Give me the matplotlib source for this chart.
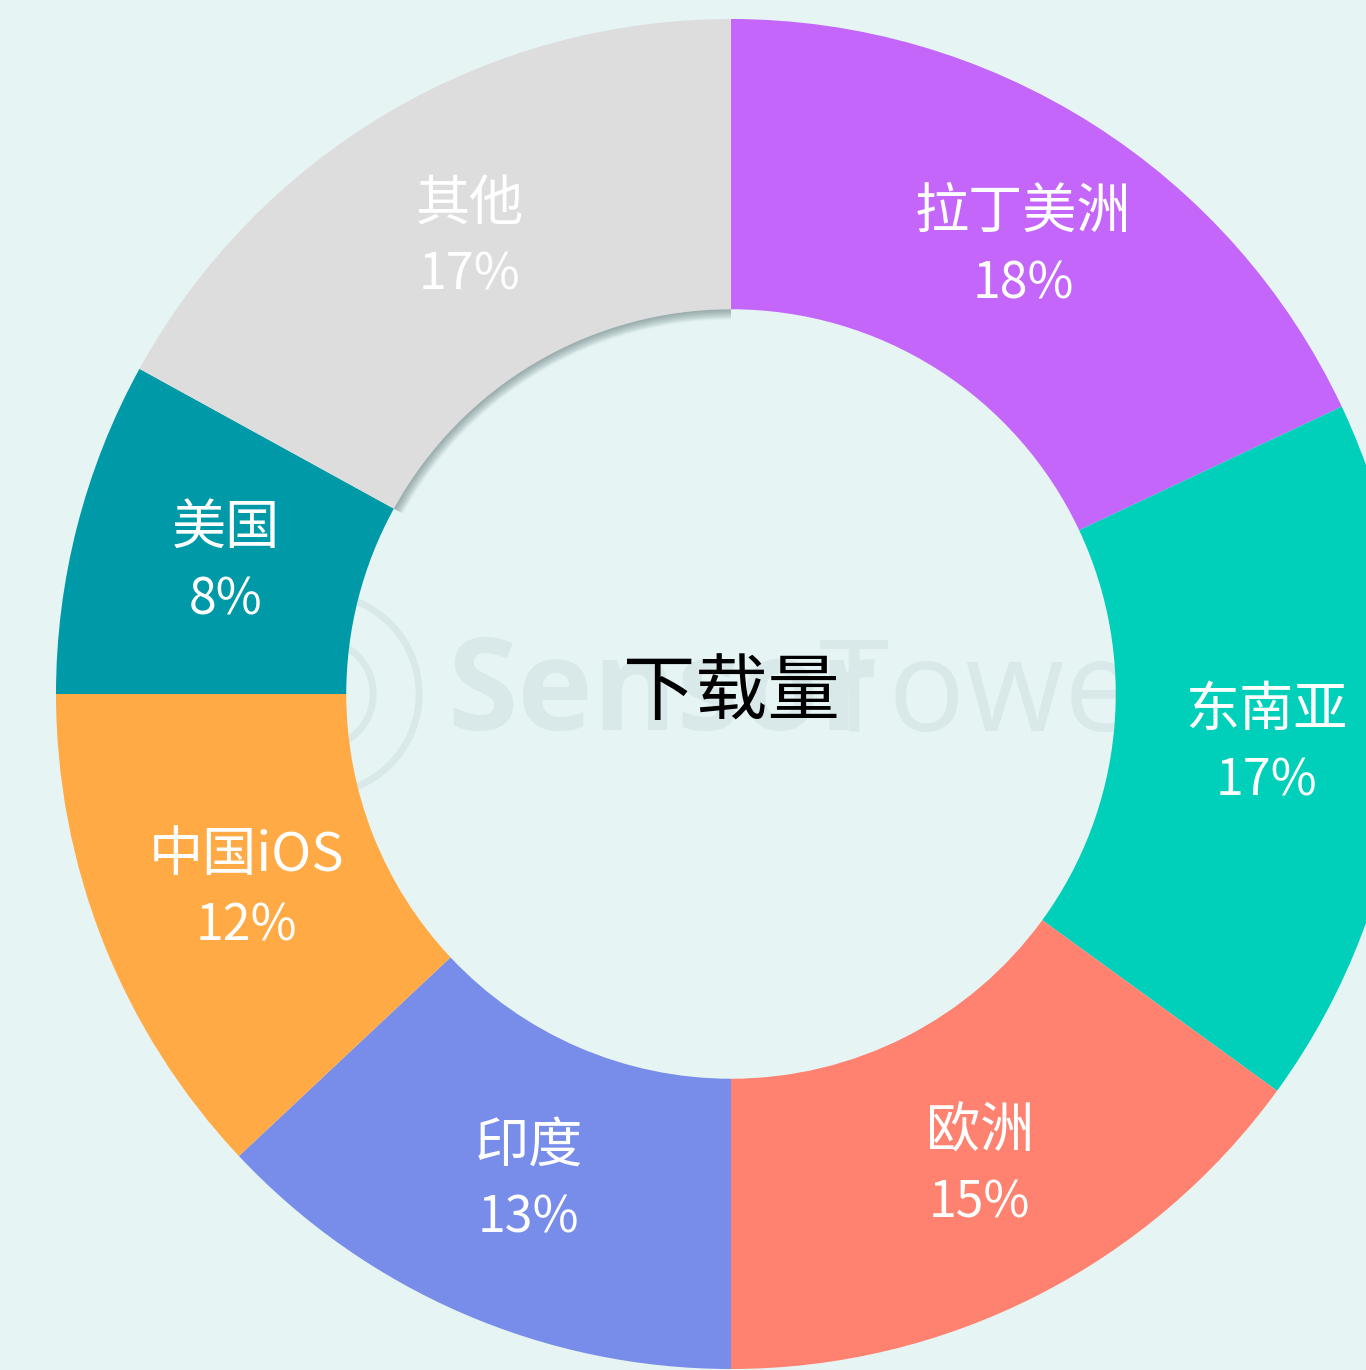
import numpy as np
import matplotlib.pyplot as plt
from matplotlib.patches import Arc, Circle

plt.rcParams['font.family'] = ['Noto Sans CJK SC', 'DejaVu Sans']

# download share by region, clockwise from 12 o'clock
regions = ['拉丁美洲', '东南亚', '欧洲', '印度', '中国iOS', '美国', '其他']
shares = [18, 17, 15, 13, 12, 8, 17]
colors = ['#C466FA', '#00CFB9', '#FF8170', '#788DE9', '#FFAA44', '#0099A8', '#DDDDDD']
center_title = '下载量'

bg = '#E6F5F4'
W, H = 1366, 1370
cx, cy, R = 731, 676, 675   # donut centre / outer radius in pixels
inner = 0.57

fig = plt.figure(figsize=(W / 100, H / 100), dpi=100)
fig.patch.set_facecolor(bg)
ax = fig.add_axes([(cx - R) / W, (cy - R) / H, 2 * R / W, 2 * R / H])

wedges, _ = ax.pie(shares, colors=colors, startangle=90, counterclock=False,
                   radius=1, wedgeprops=dict(width=1 - inner, linewidth=0))
for w in wedges:
    w.set_zorder(2)
    w.set_clip_on(False)

# pie() sets its own limits, so fix them afterwards
ax.set_xlim(-1, 1)
ax.set_ylim(-1, 1)
ax.set_aspect('equal')
ax.axis('off')

# faint watermark behind the ring
wm = '#D9E9E9'
ax.add_patch(Circle((-0.61, 0.0), 0.08, fill=False, ec=wm, lw=5, zorder=0))
ax.add_patch(Circle((-0.61, 0.0), 0.148, fill=False, ec=wm, lw=5, zorder=0))
ax.text(-0.42, -0.005, 'Sensor', fontsize=92, fontweight='bold', color=wm,
        family='Open Sans', ha='left', va='center', zorder=0)
ax.text(0.13, -0.005, 'Tower', fontsize=92, color=wm,
        family='Open Sans', ha='left', va='center', zorder=0)

# soft shadow under the inner edge of the last slice
th1 = 90 + 360 * shares[-1] / 100
for k in range(7):
    r = inner - 0.0022 * k
    ax.add_patch(Arc((0, 0), 2 * r, 2 * r, theta1=90, theta2=th1,
                     color='#7F9494', lw=2.2, alpha=0.5 - 0.07 * k, zorder=1.5))

# labels inside the ring
start = 90
lab_r = 0.785
dx, dy = 0.012, -0.003
for name, v in zip(regions, shares):
    mid = np.deg2rad(start - 360 * v / 200)
    x, y = lab_r * np.cos(mid) + dx, lab_r * np.sin(mid) + dy
    ax.text(x, y + 0.053, name, fontsize=39, color='white', ha='center', va='center', zorder=3)
    ax.text(x, y - 0.053, f'{v}%', fontsize=36, color='white', ha='center', va='center', zorder=3)
    start -= 360 * v / 100

ax.text(0, 0.0, center_title, fontsize=52, color='black', ha='center', va='center', zorder=3)

fig.savefig('out.png', dpi=100, facecolor=bg)
